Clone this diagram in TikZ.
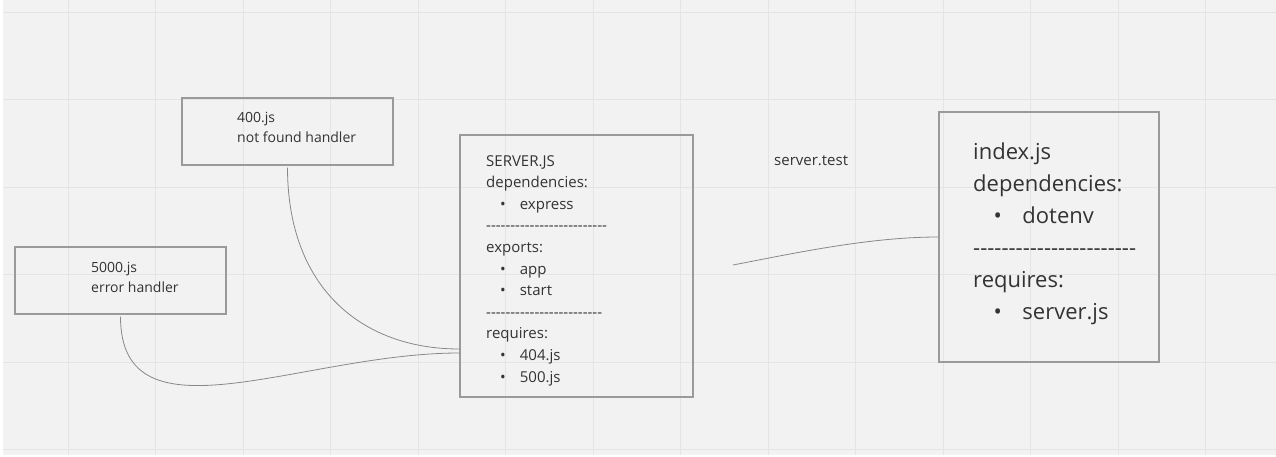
\documentclass[tikz,border=0pt]{standalone}
\usepackage{fontspec}
\setmainfont{Open Sans}
\usetikzlibrary{positioning}
\definecolor{MiroBg}{HTML}{F2F2F2}
\definecolor{MiroGrid}{HTML}{E4E4E4}
\definecolor{MiroEdge}{HTML}{9A9A9A}
\definecolor{MiroText}{HTML}{333333}
\definecolor{MiroLink}{HTML}{888888}
\newcommand{\dotitem}[1]{\hspace*{#1}\textbullet\hspace*{#1}}
\newcommand{\dashrow}[1]{\foreach \k in {1,...,#1}{\mbox{-}}}

\begin{document}
\begin{tikzpicture}[x=1pt, y=-1pt,
    frame/.style={draw=MiroEdge, line width=1.1pt, inner sep=0pt},
    txt/.style={text=MiroText, align=left, inner sep=0pt, anchor=base west},
    link/.style={draw=MiroLink, line width=0.8pt},
  ]
  \useasboundingbox (0,0) rectangle (1276,457);
  \fill[white] (0,0) rectangle (1276,457);
  \fill[MiroBg] (3,0) rectangle (1276,455);
  \foreach \gx in {0,...,13}
    \draw[MiroGrid, line width=0.9pt] ({68+87.5*\gx},0) -- ++(0,455);
  \foreach \gy in {0,...,5}
    \draw[MiroGrid, line width=0.9pt] (3,{12+87.5*\gy}) -- ++(1273,0);

  % boxes
  \node[frame, minimum width=211pt, minimum height=67pt] (notfound) at (287.5,131.5) {};
  \node[frame, minimum width=211pt, minimum height=67pt] (errbox) at (120.5,280.5) {};
  \node[frame, minimum width=233pt, minimum height=262pt] (server) at (576.5,266) {};
  \node[frame, minimum width=220pt, minimum height=250pt] (index) at (1049,237) {};

  % texts (placed by the baseline of their last line)
  \node[txt, font=\fontsize{14}{20}\selectfont] (notfoundtxt) at (237,143)
       {400.js\\not found handler};
  \node[txt, font=\fontsize{14}{20}\selectfont] (errtxt) at (91,292)
       {5000.js\\error handler};
  \node[txt, font=\fontsize{15}{21.6}\selectfont] (servertxt) at (486,382)
       {SERVER.JS\\dependencies:\\\dotitem{14pt}express\\\dashrow{25}\\
        exports:\\\dotitem{14pt}app\\\dotitem{14pt}start\\\dashrow{24}\\
        requires:\\\dotitem{14pt}404.js\\\dotitem{14pt}500.js};
  \node[txt, font=\fontsize{22}{32}\selectfont] (indextxt) at (973,319)
       {index.js\\dependencies:\\\dotitem{20.5pt}dotenv\\\dashrow{23}\\
        requires:\\\dotitem{20.5pt}server.js};
  \node[txt, font=\fontsize{15}{18}\selectfont] (servertest) at (774,166) {server.test};

  % connectors
  \draw[link, shorten <=2pt] (notfound.south) .. controls +(0,122) and +(-98,0)
        .. ([yshift=-83pt]server.west);
  \draw[link, shorten <=2pt] (errbox.south) .. controls +(0,132) and +(-158,0)
        .. ([yshift=-87pt]server.west);
  \coordinate (testend) at (733,265);
  \draw[link] (testend) .. controls +(67,-13) and +(-67,0) .. (index.west);
\end{tikzpicture}
\end{document}
